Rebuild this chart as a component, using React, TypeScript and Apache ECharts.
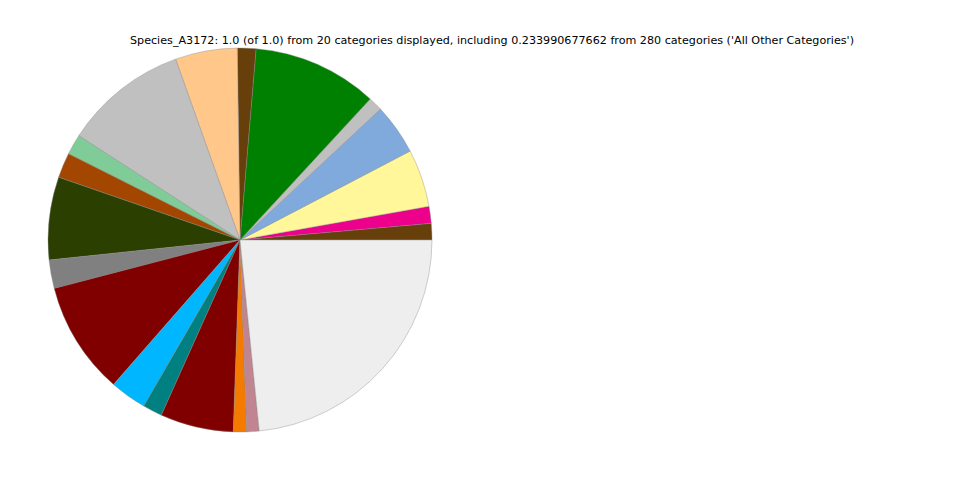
import React, { useEffect, useRef } from "react";
import * as echarts from "echarts";

const titleText =
  "Species_A3172: 1.0 (of 1.0) from 20 categories displayed, including 0.233990677662 from 280 categories ('All Other Categories')";

const categories = [
  "Category 1", "Category 2", "Category 3", "Category 4", "Category 5",
  "Category 6", "Category 7", "Category 8", "Category 9", "Category 10",
  "Category 11", "Category 12", "Category 13", "Category 14", "Category 15",
  "Category 16", "Category 17", "Category 18", "Category 19", "All Other Categories",
];

const values = [
  0.01389, 0.01417, 0.04861, 0.04278, 0.01194,
  0.10528, 0.01556, 0.05222, 0.10417, 0.01722,
  0.02111, 0.06972, 0.02389, 0.095, 0.03083,
  0.01639, 0.06167, 0.01111, 0.01044, 0.233990677662,
];

const colors = [
  "#663F0A", "#EC008C", "#FFF799", "#7FAADB", "#C0C0C0",
  "#008000", "#663F0A", "#FFC88A", "#C0C0C0", "#80CC99",
  "#A34700", "#2B4000", "#808080", "#800000", "#00B7FF",
  "#008080", "#800000", "#F57A00", "#C08590", "#EEEEEE",
];

export default function App() {
  const ref = useRef<HTMLDivElement>(null);
  useEffect(() => {
    if (!ref.current) return;
    const chart = echarts.init(ref.current, null, { renderer: "svg" });
    chart.setOption({
      animation: false,
      backgroundColor: "#ffffff",
      title: {
        text: titleText,
        left: 487,
        textAlign: "center",
        top: 30,
        textStyle: {
          fontFamily: "DejaVu Sans",
          fontSize: 11.15,
          fontWeight: "normal",
          color: "#000000",
        },
      },
      series: [
        {
          type: "pie",
          center: [240, 240],
          radius: 192,
          startAngle: 0,
          clockwise: false,
          minAngle: 0,
          avoidLabelOverlap: false,
          label: { show: false },
          labelLine: { show: false },
          emphasis: { disabled: true },
          itemStyle: { borderColor: "#888888", borderWidth: 0.4 },
          data: categories.map((name, i) => ({
            name,
            value: values[i],
            itemStyle: { color: colors[i] },
          })),
        },
      ],
    });
    return () => chart.dispose();
  }, []);
  return (
    <div
      ref={ref}
      style={{ position: "fixed", left: 0, top: 0, width: 960, height: 480 }}
    />
  );
}
